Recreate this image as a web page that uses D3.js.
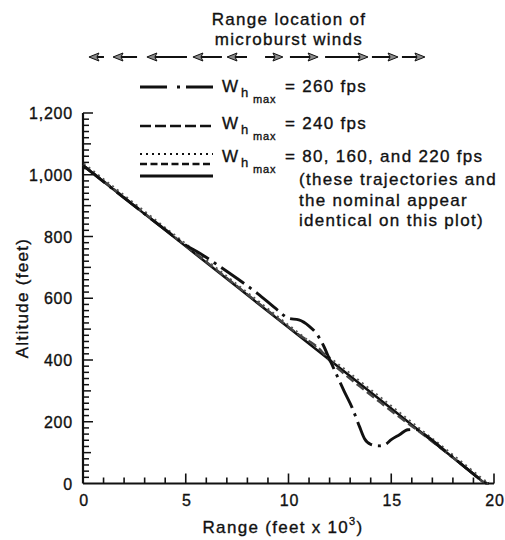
<!DOCTYPE html>
<html>
<head>
<meta charset="utf-8">
<script src="https://cdn.jsdelivr.net/npm/d3@7"></script>
<style>
  body { margin: 0; background: #fff; }
  svg text { font-family: "Liberation Sans", Arial, Helvetica, sans-serif; fill: #111; stroke: #111; stroke-width: 0.35px; }
</style>
</head>
<body>
<svg id="chart" width="505" height="540"></svg>
<script>
// range in thousands of feet, altitude in feet
const nominal = [
  [0, 1030], [5, 768], [10, 505], [15, 243], [18, 84], [19.2, 20], [19.5, 4], [19.75, 0]
]

const wind260 = [
  [0, 1030], [2, 925], [4, 822], [5, 772], [5.7, 745], [6.5, 710], [7.5, 664], [8.5, 615],
  [9.5, 560], [10.0, 535], [10.5, 530], [11.0, 510], [11.4, 482], [11.7, 447], [12.0, 402],
  [12.3, 358], [12.7, 300], [13.1, 245], [13.45, 185], [13.7, 145], [14.0, 127], [14.4, 122],
  [14.7, 126], [15.0, 142], [15.4, 158], [15.8, 174], [16.2, 175], [16.6, 160], [17.5, 112],
  [18.5, 58], [19.2, 20], [19.5, 4], [19.75, 0]
]

const wind240 = [
  [0, 1032], [3, 875], [6, 718], [9, 560], [10.5, 482], [11.5, 436], [12.0, 398],
  [12.5, 367], [13.5, 313], [14.5, 261], [15.5, 210], [16.3, 171], [18, 84], [19.2, 20],
  [19.5, 4], [19.75, 0]
]

// arrows above the plot: [tail, head] in thousands of feet
const windArrows = [
  [1.02, 0.29], [2.63, 1.46], [5.06, 3.11], [6.76, 5.35], [7.98, 7.01],
  [8.86, 9.73], [10.07, 11.44], [11.78, 13.87], [14.06, 15.33], [15.52, 16.64]
]

const xTicks = [0, 5, 10, 15, 20]
const yTicks = [0, 200, 400, 600, 800, 1000, 1200]

const legendRows = ["= 260 fps", "= 240 fps", "= 80, 160, and 220 fps"]
const noteLines = ["(these trajectories and", "the nominal appear", "identical on this plot)"]

const svg = d3.select("#chart")
const ink = "#111"

const x = d3.scaleLinear().domain([0, 20]).range([83, 494])
const y = d3.scaleLinear().domain([0, 1200]).range([483.5, 113])

const font = (sel, size, spacing) => sel.attr("font-size", size).attr("letter-spacing", spacing)

// title over the arrows
const title = svg.append("text").attr("text-anchor", "middle").call(font, 17, 1.3)
title.append("tspan").attr("x", 289).attr("y", 25).text("Range location of")
title.append("tspan").attr("x", 289).attr("y", 45).text("microburst winds")

// wind arrows
const arrowY = 57
windArrows.forEach(([t, h]) => {
  const x0 = x(t), x1 = x(h)
  const dir = x1 > x0 ? 1 : -1
  svg.append("line")
    .attr("x1", x0).attr("x2", x1 - dir * 3)
    .attr("y1", arrowY).attr("y2", arrowY)
    .attr("stroke", ink).attr("stroke-width", 2)
  svg.append("path")
    .attr("d", `M${x1},${arrowY} L${x1 - dir * 10},${arrowY - 4} L${x1 - dir * 8},${arrowY} L${x1 - dir * 10},${arrowY + 4} Z`)
    .attr("fill", "#8a8a8a").attr("stroke", ink).attr("stroke-width", 1)
})

// axes
const g = svg.append("g")
g.append("line").attr("x1", x(0)).attr("x2", x(20)).attr("y1", y(0)).attr("y2", y(0))
  .attr("stroke", ink).attr("stroke-width", 2.2)
g.append("line").attr("x1", x(0)).attr("x2", x(0)).attr("y1", y(0)).attr("y2", y(1200))
  .attr("stroke", ink).attr("stroke-width", 2.2)

d3.range(1, 21).forEach(v => {
  const len = v % 5 === 0 ? 10 : 6
  g.append("line").attr("x1", x(v)).attr("x2", x(v))
    .attr("y1", y(0)).attr("y2", y(0) - len)
    .attr("stroke", ink).attr("stroke-width", 1.6)
})
d3.range(20, 1201, 20).forEach(v => {
  const len = v % 200 === 0 ? 10 : (v % 100 === 0 ? 8 : 6)
  g.append("line").attr("x1", x(0)).attr("x2", x(0) + len)
    .attr("y1", y(v)).attr("y2", y(v))
    .attr("stroke", ink).attr("stroke-width", 1.5)
})

g.selectAll(".xl").data(xTicks).enter().append("text")
  .attr("x", d => x(d) + 1).attr("y", 506)
  .attr("text-anchor", "middle").call(font, 16, 0.8)
  .text(d => d)

g.selectAll(".yl").data(yTicks).enter().append("text")
  .attr("x", 73).attr("y", d => y(d) + 6)
  .attr("text-anchor", "end").call(font, 16, 0.8)
  .text(d => d3.format(",")(d))

const xLab = svg.append("text").attr("x", 283).attr("y", 533)
  .attr("text-anchor", "middle").call(font, 17, 1.3)
xLab.append("tspan").text("Range (feet x 10")
xLab.append("tspan").attr("font-size", 11).attr("dy", -8).text("3")
xLab.append("tspan").attr("dy", 8).text(")")

svg.append("text").attr("transform", "translate(28,298) rotate(-90)")
  .attr("text-anchor", "middle").call(font, 17, 1.3)
  .text("Altitude (feet)")

// trajectories
const line = d3.line().x(d => x(d[0])).y(d => y(d[1])).curve(d3.curveMonotoneX)

svg.append("path").datum(nominal).attr("d", line)
  .attr("fill", "none").attr("stroke", ink).attr("stroke-width", 2.5)
svg.append("path").datum(nominal).attr("d", line)
  .attr("fill", "none").attr("stroke", "#555").attr("stroke-width", 1.6)
  .attr("stroke-dasharray", "2,4").attr("transform", "translate(1,-2)")
svg.append("path").datum(wind240).attr("d", line)
  .attr("fill", "none").attr("stroke", "#444").attr("stroke-width", 2.4)
  .attr("stroke-dasharray", "9,4")
svg.append("path").datum(wind260).attr("d", line)
  .attr("fill", "none").attr("stroke", ink).attr("stroke-width", 2.9)
  .attr("stroke-dasharray", "28,6,3,6")

// legend
const lx0 = 140, lx1 = 213
const leg = svg.append("g")
const legLine = (yy, dash, w) => leg.append("line")
  .attr("x1", lx0).attr("x2", lx1).attr("y1", yy).attr("y2", yy)
  .attr("stroke", ink).attr("stroke-width", w).attr("stroke-dasharray", dash)

legLine(87, "27,10,3,6", 2.9)
legLine(126, "11,4", 2.7)
legLine(154, "2,4", 2)
legLine(164, "7,3.5", 2.4)
legLine(176, null, 2.8)

const rowBase = [92, 129, 162]
legendRows.forEach((txt, i) => {
  const b = rowBase[i]
  leg.append("text").attr("x", 222).attr("y", b).call(font, 17, 1.3).text("W")
  leg.append("text").attr("x", 241).attr("y", b + 5).call(font, 13, 0.5).text("h")
  leg.append("text").attr("x", 253).attr("y", b + 11).call(font, 11, 0.8).text("max")
  leg.append("text").attr("x", 285).attr("y", b).call(font, 17, 1.3).text(txt)
})
noteLines.forEach((txt, i) => {
  leg.append("text").attr("x", 299).attr("y", 185 + i * 20.5).call(font, 17, 1.3).text(txt)
})
</script>
</body>
</html>
